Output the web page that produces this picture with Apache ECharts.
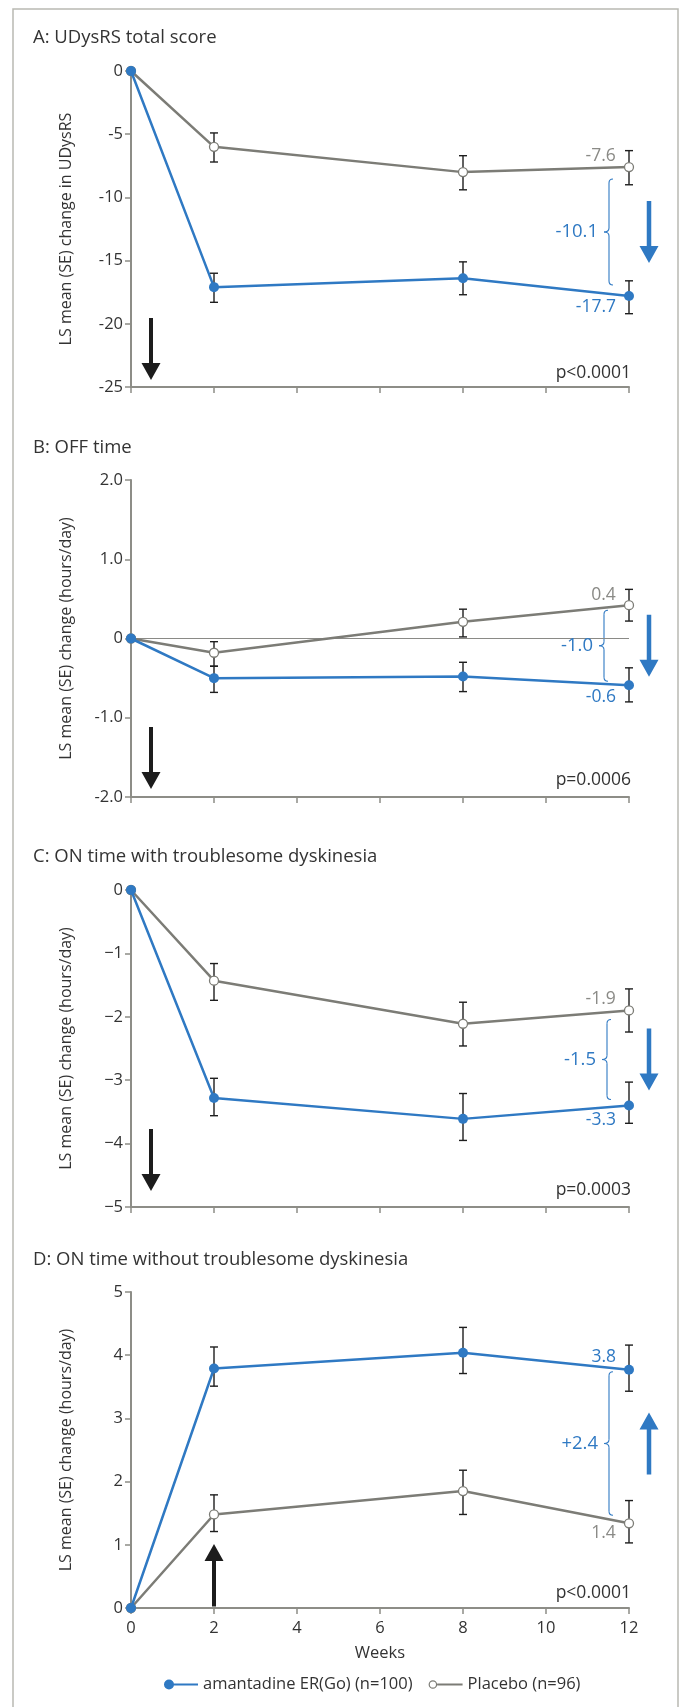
<!DOCTYPE html>
<html>
<head>
<meta charset="utf-8">
<script src="https://cdn.jsdelivr.net/npm/echarts@6/dist/echarts.min.js"></script>
<style>
  html, body { margin: 0; padding: 0; background: #ffffff; }
  #main { width: 684px; height: 1707px; }
</style>
</head>
<body>
<div id="main"></div>
<script>
// ---------------- DATA ----------------
const weeks = [0, 2, 8, 12];
const seriesNames = ['amantadine ER(Go) (n=100)', 'Placebo (n=96)'];
const panelTitles = [
  'A: UDysRS total score',
  'B: OFF time',
  'C: ON time with troublesome dyskinesia',
  'D: ON time without troublesome dyskinesia'
];
const yAxisNames = [
  'LS mean (SE) change in UDysRS',
  'LS mean (SE) change (hours/day)',
  'LS mean (SE) change (hours/day)',
  'LS mean (SE) change (hours/day)'
];
const xAxisName = 'Weeks';

// Panel A: UDysRS
const aYTicks = [-25, -20, -15, -10, -5, 0];
const aAmanMean = [0, -17.1, -16.4, -17.8];
const aAmanLow  = [-18.3, -17.7, -19.2];   // weeks 2, 8, 12
const aAmanHigh = [-16.0, -15.1, -16.6];
const aPlacMean = [0, -6.0, -8.0, -7.6];
const aPlacLow  = [-7.2, -9.4, -9.0];
const aPlacHigh = [-4.9, -6.7, -6.3];

// Panel B: OFF time
const bYTicks = [-2, -1, 0, 1, 2];
const bAmanMean = [0, -0.50, -0.48, -0.59];
const bAmanLow  = [-0.68, -0.67, -0.80];
const bAmanHigh = [-0.35, -0.30, -0.37];
const bPlacMean = [0, -0.18, 0.21, 0.42];
const bPlacLow  = [-0.35, 0.02, 0.22];
const bPlacHigh = [-0.04, 0.37, 0.62];

// Panel C: ON time with troublesome dyskinesia
const cYTicks = [-5, -4, -3, -2, -1, 0];
const cAmanMean = [0, -3.28, -3.61, -3.40];
const cAmanLow  = [-3.56, -3.95, -3.68];
const cAmanHigh = [-2.97, -3.21, -3.03];
const cPlacMean = [0, -1.43, -2.11, -1.90];
const cPlacLow  = [-1.74, -2.46, -2.24];
const cPlacHigh = [-1.16, -1.77, -1.56];

// Panel D: ON time without troublesome dyskinesia
const dYTicks = [0, 1, 2, 3, 4, 5];
const dAmanMean = [0, 3.79, 4.04, 3.77];
const dAmanLow  = [3.51, 3.71, 3.43];
const dAmanHigh = [4.13, 4.44, 4.16];
const dPlacMean = [0, 1.48, 1.85, 1.34];
const dPlacLow  = [1.21, 1.48, 1.03];
const dPlacHigh = [1.79, 2.18, 1.70];

// End-point labels [amantadine, placebo], difference and p-value texts
const endLabels = [['-17.7', '-7.6'], ['-0.6', '0.4'], ['-3.3', '-1.9'], ['3.8', '1.4']];
const diffLabels = ['-10.1', '-1.0', '-1.5', '+2.4'];
const pLabels = ['p<0.0001', 'p=0.0006', 'p=0.0003', 'p<0.0001'];

// ---------------- STYLE / LAYOUT ----------------
const FONT = '"Open Sans", "Noto Sans", sans-serif';
const BLUE = '#2f79c3';
const GRAY = '#7c7c76';
const GRAY_TXT = '#8a8a86';
const AXIS = '#8d8d87';
const TEXT = '#333333';
const ERR = '#1e1e1e';
const GRID_LEFT = 131, GRID_W = 498;
const TOPS = [71, 480, 890, 1292];
const HEIGHTS = [316, 317, 317, 316];
const TITLE_Y = [38, 448, 857, 1260];
const placOff = [-11, -10, -11, 10];
const amanOff = [11, 12, 14, -13];
const braceInset = [[12, 11], [5, 4], [9, 6], [2, 8]];
const braceX = [609, 604, 607, 609];
const blackTipUp = [7, 8, 16, 0];
const pUp = [14, 17, 17, 15];

const panels = [
  { yTicks: aYTicks, aman: [aAmanMean, aAmanLow, aAmanHigh], plac: [aPlacMean, aPlacLow, aPlacHigh] },
  { yTicks: bYTicks, aman: [bAmanMean, bAmanLow, bAmanHigh], plac: [bPlacMean, bPlacLow, bPlacHigh] },
  { yTicks: cYTicks, aman: [cAmanMean, cAmanLow, cAmanHigh], plac: [cPlacMean, cPlacLow, cPlacHigh] },
  { yTicks: dYTicks, aman: [dAmanMean, dAmanLow, dAmanHigh], plac: [dPlacMean, dPlacLow, dPlacHigh] }
];

const yFormatters = [
  v => String(v),
  v => v === 0 ? '0' : v.toFixed(1),
  v => v === 0 ? '0' : '\u2212' + Math.abs(v),
  v => String(v)
];

function errRender(params, api) {
  const x = api.value(0), lo = api.value(1), hi = api.value(2);
  const pLo = api.coord([x, lo]), pHi = api.coord([x, hi]);
  const w = 4;
  const st = { stroke: ERR, lineWidth: 1.4 };
  return {
    type: 'group',
    children: [
      { type: 'line', shape: { x1: pHi[0], y1: pHi[1], x2: pLo[0], y2: pLo[1] }, style: st },
      { type: 'line', shape: { x1: pHi[0] - w, y1: pHi[1], x2: pHi[0] + w, y2: pHi[1] }, style: st },
      { type: 'line', shape: { x1: pLo[0] - w, y1: pLo[1], x2: pLo[0] + w, y2: pLo[1] }, style: st }
    ]
  };
}

const grid = [], xAxis = [], yAxis = [], series = [], title = [];
panels.forEach((p, i) => {
  grid.push({ left: GRID_LEFT, width: GRID_W, top: TOPS[i], height: HEIGHTS[i] });
  title.push({
    text: panelTitles[i], left: 33, top: TITLE_Y[i] - 10, padding: 0,
    textStyle: { fontSize: 18.5, fontWeight: 'normal', color: TEXT, fontFamily: FONT }
  });
  xAxis.push({
    type: 'value', gridIndex: i, min: 0, max: 12, interval: 2,
    axisLine: { show: true, onZero: false, lineStyle: { color: AXIS, width: 2 } },
    axisTick: { show: true, length: 6, lineStyle: { color: AXIS, width: 1.5 } },
    axisLabel: { show: i === 3, margin: 12, fontSize: 16.5, color: TEXT, fontFamily: FONT },
    splitLine: { show: false },
    name: i === 3 ? xAxisName : '', nameLocation: 'middle', nameGap: 37,
    nameTextStyle: { fontSize: 16.5, color: TEXT, fontFamily: FONT }
  });
  const t = p.yTicks;
  yAxis.push({
    type: 'value', gridIndex: i, min: t[0], max: t[t.length - 1], interval: t[1] - t[0],
    axisLine: { show: true, onZero: false, lineStyle: { color: AXIS, width: 2 } },
    axisTick: { show: true, length: 6, lineStyle: { color: AXIS, width: 1.5 } },
    axisLabel: { margin: 8, fontSize: 16.5, color: TEXT, fontFamily: FONT, formatter: yFormatters[i] },
    splitLine: { show: false },
    name: yAxisNames[i], nameLocation: 'middle', nameGap: 57, nameRotate: 90,
    nameTextStyle: { fontSize: 16, color: TEXT, fontFamily: FONT }
  });
  // error bars
  [p.plac, p.aman].forEach(s => {
    series.push({
      type: 'custom', xAxisIndex: i, yAxisIndex: i, renderItem: errRender, silent: true, z: 2,
      encode: { x: 0, y: [1, 2] },
      data: weeks.slice(1).map((w, j) => [w, s[1][j], s[2][j]])
    });
  });
  const mkData = (mean, txt, col, off) => weeks.map((w, j) => {
    if (j === weeks.length - 1) {
      return {
        value: [w, mean[j]],
        label: {
          show: true, position: 'left', distance: 8, offset: [0, off],
          formatter: () => txt, color: col, fontSize: 17.5, fontFamily: FONT
        }
      };
    }
    return [w, mean[j]];
  });
  const placSeries = {
    name: seriesNames[1], type: 'line', xAxisIndex: i, yAxisIndex: i, z: 3,
    symbol: 'circle', symbolSize: 9,
    itemStyle: { color: '#ffffff', borderColor: GRAY, borderWidth: 1.3 },
    lineStyle: { color: GRAY, width: 2.5 },
    data: mkData(p.plac[0], endLabels[i][1], GRAY_TXT, placOff[i])
  };
  if (i === 1) {
    placSeries.markLine = {
      silent: true, symbol: 'none', label: { show: false }, z: 1,
      lineStyle: { color: '#8a8a86', width: 1, type: 'solid' },
      data: [{ yAxis: 0 }]
    };
  }
  series.push(placSeries);
  series.push({
    name: seriesNames[0], type: 'line', xAxisIndex: i, yAxisIndex: i, z: 4,
    symbol: 'circle', symbolSize: 10,
    itemStyle: { color: BLUE },
    lineStyle: { color: BLUE, width: 2.5 },
    data: mkData(p.aman[0], endLabels[i][0], BLUE, amanOff[i])
  });
});

const chart = echarts.init(document.getElementById('main'), null, { renderer: 'canvas', width: 684, height: 1707 });
chart.setOption({
  animation: false,
  backgroundColor: '#ffffff',
  title: title,
  grid: grid, xAxis: xAxis, yAxis: yAxis, series: series,
  legend: {
    left: 164, top: 1676, padding: 0, itemWidth: 34, itemHeight: 10, itemGap: 16,
    textStyle: { fontSize: 16.5, color: TEXT, fontFamily: FONT },
    data: [
      { name: seriesNames[0], icon: 'path://M0,5a5,5 0 1,1 10,0a5,5 0 1,1 -10,0Z M9,4L34,4L34,6L9,6Z',
        itemStyle: { color: BLUE, borderWidth: 0 } },
      { name: seriesNames[1], icon: 'path://M0,5a4.3,4.3 0 1,1 8.6,0a4.3,4.3 0 1,1 -8.6,0Z M1.2,5a3.1,3.1 0 1,0 6.2,0a3.1,3.1 0 1,0 -6.2,0Z M8.6,4L34,4L34,6L8.6,6Z',
        itemStyle: { color: GRAY, borderWidth: 0 } }
    ]
  }
});

// ---------------- ANNOTATIONS ----------------
const g = [];
g.push({ type: 'rect', shape: { x: 13, y: 9, width: 665, height: 1720 }, style: { fill: 'none', stroke: '#b9b9b2', lineWidth: 1.5 }, z: 0 });

function arrowPts(x, yTail, yTip, shaftW, headW, headL) {
  const d = yTip > yTail ? 1 : -1;
  const yh = yTip - d * headL;
  return [[x - shaftW / 2, yTail], [x + shaftW / 2, yTail], [x + shaftW / 2, yh], [x + headW / 2, yh],
          [x, yTip], [x - headW / 2, yh], [x - shaftW / 2, yh]];
}
function txt(text, x, y, color, align, size) {
  return { type: 'text', z: 10, style: { text: text, x: x, y: y, fill: color, font: size + 'px ' + FONT,
    textAlign: align, textVerticalAlign: 'middle', align: align, verticalAlign: 'middle' } };
}

panels.forEach((p, i) => {
  const bottom = TOPS[i] + HEIGHTS[i];
  const last = weeks.length - 1;
  const pa = chart.convertToPixel({ gridIndex: i }, [weeks[last], p.aman[0][last]]);
  const pp = chart.convertToPixel({ gridIndex: i }, [weeks[last], p.plac[0][last]]);
  const upper = Math.min(pa[1], pp[1]), lower = Math.max(pa[1], pp[1]);
  const y0 = upper + braceInset[i][0], y1 = lower - braceInset[i][1];
  const ym = (y0 + y1) / 2, bx = braceX[i];
  const bs = { stroke: BLUE, lineWidth: 1.1, fill: 'none' };
  g.push({ type: 'bezierCurve', shape: { x1: bx + 4, y1: y0, cpx1: bx, cpy1: y0, x2: bx, y2: y0 + 4 }, style: bs });
  g.push({ type: 'line', shape: { x1: bx, y1: y0 + 4, x2: bx, y2: ym - 4 }, style: bs });
  g.push({ type: 'bezierCurve', shape: { x1: bx, y1: ym - 4, cpx1: bx, cpy1: ym, x2: bx - 5, y2: ym }, style: bs });
  g.push({ type: 'bezierCurve', shape: { x1: bx - 5, y1: ym, cpx1: bx, cpy1: ym, x2: bx, y2: ym + 4 }, style: bs });
  g.push({ type: 'line', shape: { x1: bx, y1: ym + 4, x2: bx, y2: y1 - 4 }, style: bs });
  g.push({ type: 'bezierCurve', shape: { x1: bx, y1: y1 - 4, cpx1: bx, cpy1: y1, x2: bx + 4, y2: y1 }, style: bs });
  g.push(txt(diffLabels[i], bx - 11, ym, BLUE, 'right', 18.5));
  // blue direction arrow
  const up = i === 3;
  const ax = 649;
  g.push({ type: 'polygon', z: 10, shape: { points: up ? arrowPts(ax, ym + 31, ym - 31, 4.5, 19, 17) : arrowPts(ax, ym - 31, ym + 31, 4.5, 19, 17) }, style: { fill: BLUE } });
  // black "better" arrow
  if (up) {
    const bxp = chart.convertToPixel({ gridIndex: i }, [2, 0])[0];
    g.push({ type: 'polygon', z: 10, shape: { points: arrowPts(bxp, bottom - 1.5, bottom - 64, 4, 19, 17) }, style: { fill: '#1c1c1c' } });
  } else {
    const tip = bottom - blackTipUp[i];
    g.push({ type: 'polygon', z: 10, shape: { points: arrowPts(GRID_LEFT + 20, tip - 62, tip, 4, 19, 17) }, style: { fill: '#1c1c1c' } });
  }
  g.push(txt(pLabels[i], 631, bottom - pUp[i], TEXT, 'right', 17.5));
});
chart.setOption({ graphic: g });
</script>
</body>
</html>
